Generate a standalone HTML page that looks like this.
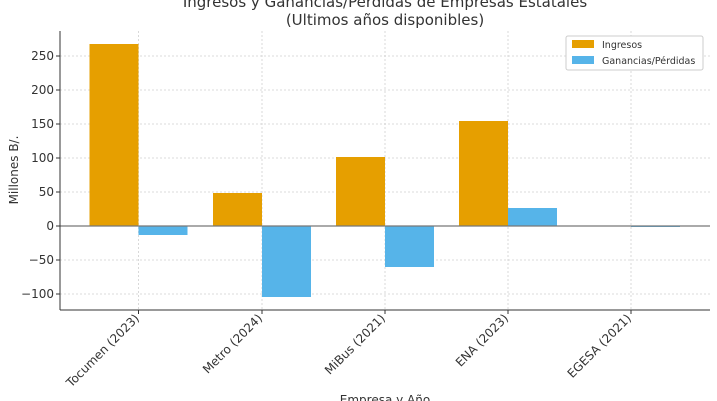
<!DOCTYPE html>
<html><head><meta charset="utf-8"><style>body{margin:0;background:#fff}svg{display:block}</style></head><body>
<svg width="717" height="401" xmlns="http://www.w3.org/2000/svg" font-family="'DejaVu Sans','Liberation Sans',sans-serif">
<g stroke="#d0d0d0" stroke-width="0.8" stroke-dasharray="2,2">
<line x1="60" x2="710" y1="56" y2="56"/><line x1="60" x2="710" y1="90" y2="90"/><line x1="60" x2="710" y1="124" y2="124"/><line x1="60" x2="710" y1="158" y2="158"/><line x1="60" x2="710" y1="192" y2="192"/><line x1="60" x2="710" y1="260" y2="260"/><line x1="60" x2="710" y1="294" y2="294"/>
<line x1="138.5" x2="138.5" y1="31" y2="310"/><line x1="262" x2="262" y1="31" y2="310"/><line x1="385" x2="385" y1="31" y2="310"/><line x1="508" x2="508" y1="31" y2="310"/><line x1="631" x2="631" y1="31" y2="310"/>
</g>
<g fill="#E69F00">
<rect x="89.5" y="44" width="49" height="182"/><rect x="213" y="193" width="49" height="33"/><rect x="336" y="157" width="49" height="69"/><rect x="459" y="121" width="49" height="105"/>
</g>
<g fill="#56B4E9">
<rect x="138.5" y="226" width="49" height="9"/><rect x="262" y="226" width="49" height="71"/><rect x="385" y="226" width="49" height="41"/><rect x="508" y="208" width="49" height="18"/><rect x="631" y="226" width="49" height="1"/>
</g>
<line x1="60" x2="710" y1="226" y2="226" stroke="#777" stroke-width="1.2"/>
<line x1="60" x2="60" y1="31" y2="310" stroke="#333" stroke-width="1"/>
<line x1="60" x2="710" y1="310" y2="310" stroke="#333" stroke-width="1"/>
<g font-size="12" fill="#333" text-anchor="end">
<text x="54" y="60">250</text><text x="54" y="94">200</text><text x="54" y="128">150</text><text x="54" y="162">100</text><text x="54" y="196">50</text><text x="54" y="230">0</text><text x="54" y="264">−50</text><text x="54" y="298">−100</text>
</g>
<g stroke="#333"><line x1="56" x2="60" y1="56" y2="56"/><line x1="56" x2="60" y1="90" y2="90"/><line x1="56" x2="60" y1="124" y2="124"/><line x1="56" x2="60" y1="158" y2="158"/><line x1="56" x2="60" y1="192" y2="192"/><line x1="56" x2="60" y1="226" y2="226"/><line x1="56" x2="60" y1="260" y2="260"/><line x1="56" x2="60" y1="294" y2="294"/>
<line x1="138.5" x2="138.5" y1="310" y2="314"/><line x1="262" x2="262" y1="310" y2="314"/><line x1="385" x2="385" y1="310" y2="314"/><line x1="508" x2="508" y1="310" y2="314"/><line x1="631" x2="631" y1="310" y2="314"/></g>
<g font-size="12" fill="#333" text-anchor="end">
<text transform="translate(140,319) rotate(-45)">Tocumen (2023)</text>
<text transform="translate(263,319) rotate(-45)">Metro (2024)</text>
<text transform="translate(386,319) rotate(-45)">MiBus (2021)</text>
<text transform="translate(509,319) rotate(-45)">ENA (2023)</text>
<text transform="translate(632,319) rotate(-45)">EGESA (2021)</text>
</g>
<text x="385" y="404" font-size="12" fill="#333" text-anchor="middle">Empresa y Año</text>
<text transform="translate(18,170) rotate(-90)" font-size="12" fill="#333" text-anchor="middle">Millones B/.</text>
<text x="385" y="7" font-size="15" fill="#333" text-anchor="middle">Ingresos y Ganancias/Pérdidas de Empresas Estatales</text>
<text x="385" y="25" font-size="15" fill="#333" text-anchor="middle">(Ultimos años disponibles)</text>
<rect x="566" y="36" width="137" height="34" fill="#fff" stroke="#ccc" rx="2"/>
<rect x="572" y="40" width="22" height="8" fill="#E69F00"/>
<rect x="572" y="56" width="22" height="8" fill="#56B4E9"/>
<g font-size="9.5" fill="#333"><text x="602" y="48">Ingresos</text><text x="602" y="64">Ganancias/Pérdidas</text></g>
</svg>
</body></html>
